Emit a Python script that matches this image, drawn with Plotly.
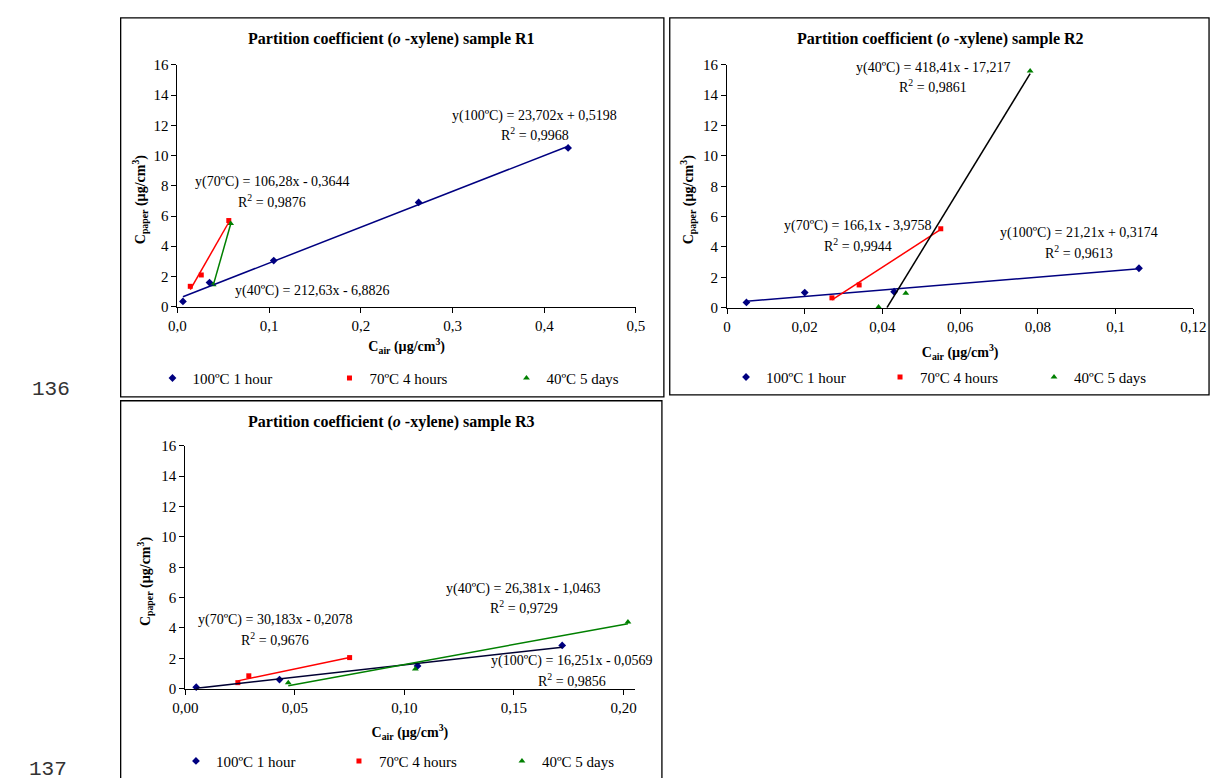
import plotly.graph_objects as go

W, H = 1224, 778
FONT = "Liberation Serif"

# ---------------- data ----------------
series_names = ["100ºC 1 hour", "70ºC 4 hours", "40ºC 5 days"]
series_colors = ["#000080", "#FF0000", "#008000"]
series_symbols = ["diamond", "square", "triangle-up"]

# Sample R1
r1_x100 = [0.006, 0.035, 0.105, 0.263, 0.426]
r1_y100 = [0.35, 1.6, 3.05, 6.9, 10.5]
r1_x70 = [0.014, 0.026, 0.056]
r1_y70 = [1.35, 2.1, 5.7]
r1_x40 = [0.039, 0.058]
r1_y40 = [1.45, 5.5]
r1_fit = [(23.702, 0.5198), (106.28, -0.3644), (212.63, -6.8826)]

# Sample R2
r2_x100 = [0.005, 0.020, 0.043, 0.106]
r2_y100 = [0.35, 1.0, 1.05, 2.6]
r2_x70 = [0.027, 0.034, 0.055]
r2_y70 = [0.65, 1.5, 5.2]
r2_x40 = [0.039, 0.046, 0.078]
r2_y40 = [0.05, 0.95, 15.6]
r2_fit = [(21.21, 0.3174), (166.1, -3.9758), (418.41, -17.217)]

# Sample R3
r3_x100 = [0.005, 0.043, 0.106, 0.172]
r3_y100 = [0.1, 0.6, 1.5, 2.85]
r3_x70 = [0.024, 0.029, 0.075]
r3_y70 = [0.4, 0.85, 2.05]
r3_x40 = [0.047, 0.105, 0.202]
r3_y40 = [0.4, 1.3, 4.4]
r3_fit = [(16.251, -0.0569), (30.183, -0.2078), (26.381, -1.0463)]

y_ticks = [0, 2, 4, 6, 8, 10, 12, 14, 16]
r1_xticks = [0, 0.1, 0.2, 0.3, 0.4, 0.5]
r1_xticklabels = ["0,0", "0,1", "0,2", "0,3", "0,4", "0,5"]
r2_xticks = [0, 0.02, 0.04, 0.06, 0.08, 0.1, 0.12]
r2_xticklabels = ["0", "0,02", "0,04", "0,06", "0,08", "0,1", "0,12"]
r3_xticks = [0, 0.05, 0.10, 0.15, 0.20]
r3_xticklabels = ["0,00", "0,05", "0,10", "0,15", "0,20"]

titles = [
    "<b>Partition coefficient (<i>o</i> -xylene) sample R1</b>",
    "<b>Partition coefficient (<i>o</i> -xylene) sample R2</b>",
    "<b>Partition coefficient (<i>o</i> -xylene) sample R3</b>",
]
r1_eq = ["y(100ºC) = 23,702x + 0,5198", "y(70ºC) = 106,28x - 0,3644", "y(40ºC) = 212,63x - 6,8826"]
r1_r2 = ["R<sup>2</sup> = 0,9968", "R<sup>2</sup> = 0,9876", None]
r2_eq = ["y(100ºC) = 21,21x + 0,3174", "y(70ºC) = 166,1x - 3,9758", "y(40ºC) = 418,41x - 17,217"]
r2_r2 = ["R<sup>2</sup> = 0,9613", "R<sup>2</sup> = 0,9944", "R<sup>2</sup> = 0,9861"]
r3_eq = ["y(100ºC) = 16,251x - 0,0569", "y(70ºC) = 30,183x - 0,2078", "y(40ºC) = 26,381x - 1,0463"]
r3_r2 = ["R<sup>2</sup> = 0,9856", "R<sup>2</sup> = 0,9676", "R<sup>2</sup> = 0,9729"]
page_numbers = ["136", "137"]


def px(x):
    return x / W


def py(y):
    return 1 - y / H


fig = go.Figure()

panels = [
    dict(xs=[r1_x100, r1_x70, r1_x40], ys=[r1_y100, r1_y70, r1_y40], fit=r1_fit,
         trend_colors=["#000080", "#FF0000", "#008000"],
         xdom=(168, 636.5), ydom=(58, 305), xrange=[0, 0.5],
         xt=r1_xticks, xtl=r1_xticklabels, legend="legend", entry=181, standoff=8,
         eq=r1_eq, r2=r1_r2,
         eqpos=[(533, 110), (265, 178), (306, 289)], r2dy=19,
         title_xy=(387, 32), ytitle_xy=(130, 195), leg_xy=(142.5, 378),
         box=(110, 10, 665, 397)),
    dict(xs=[r2_x100, r2_x70, r2_x40], ys=[r2_y100, r2_y70, r2_y40], fit=r2_fit,
         trend_colors=["#000080", "#FF0000", "#000000"],
         xdom=(729.5, 1206), ydom=(58, 306), xrange=[0, 0.12],
         xt=r2_xticks, xtl=r2_xticklabels, legend="legend2", entry=158, standoff=13,
         eq=r2_eq, r2=r2_r2,
         eqpos=[(1089, 230), (863, 223), (940, 61)], r2dy=19,
         title_xy=(948, 32), ytitle_xy=(690, 195), leg_xy=(728.5, 377),
         box=(671, 10, 1222, 395)),
    dict(xs=[r3_x100, r3_x70, r3_x40], ys=[r3_y100, r3_y70, r3_y40], fit=r3_fit,
         trend_colors=["#000033", "#FF0000", "#008000"],
         xdom=(176, 635), ydom=(447, 695), xrange=[0, 0.205],
         xt=r3_xticks, xtl=r3_xticklabels, legend="legend3", entry=167, standoff=12,
         eq=r3_eq, r2=r3_r2,
         eqpos=[(571, 667), (268, 625), (522, 593)], r2dy=19,
         title_xy=(387, 423), ytitle_xy=(135, 585), leg_xy=(166.5, 769),
         box=(110, 401, 663, 790)),
]

annotations = []
shapes = []
layout_axes = {}

for i, p in enumerate(panels):
    n = "" if i == 0 else str(i + 1)
    xa, ya = "x" + n, "y" + n
    # markers
    for k in range(3):
        fig.add_trace(go.Scatter(
            x=p["xs"][k], y=p["ys"][k], mode="markers", name=series_names[k],
            marker=dict(symbol=series_symbols[k], color=series_colors[k], size=[6, 5, 6][k]),
            xaxis=xa, yaxis=ya, legend=p["legend"], showlegend=True, cliponaxis=False))
    # linear trendlines from the fitted equations
    for k in range(3):
        a, b = p["fit"][k]
        xmin, xmax = min(p["xs"][k]), max(p["xs"][k])
        if a * xmin + b < 0:
            xmin = -b / a
        xl = [xmin, xmax]
        yl = [a * v + b for v in xl]
        fig.add_trace(go.Scatter(
            x=xl, y=yl, mode="lines", line=dict(color=p["trend_colors"][k], width=1.5),
            xaxis=xa, yaxis=ya, showlegend=False, hoverinfo="skip"))

    layout_axes["xaxis" + n] = dict(
        domain=[px(p["xdom"][0]), px(p["xdom"][1])], range=p["xrange"], anchor=ya,
        tickvals=p["xt"], ticktext=p["xtl"], ticks="outside", ticklen=5, tickcolor="black",
        showline=True, linecolor="black", linewidth=1, showgrid=False, zeroline=False,
        tickfont=dict(family=FONT, size=15, color="black"),
        title=dict(text="<b>C<sub>air</sub> (µg/cm<sup>3</sup>)</b>",
                   font=dict(family=FONT, size=14, color="black"), standoff=p["standoff"]))
    layout_axes["yaxis" + n] = dict(
        domain=[py(p["ydom"][1]), py(p["ydom"][0])], range=[0, 16], anchor=xa,
        tickvals=y_ticks, ticks="outside", ticklen=5, tickcolor="black",
        showline=True, linecolor="black", linewidth=1, showgrid=False, zeroline=False,
        tickfont=dict(family=FONT, size=15, color="black"))

    # title
    annotations.append(dict(text=titles[i], x=px(p["title_xy"][0]), y=py(p["title_xy"][1]),
                            xref="paper", yref="paper", showarrow=False, xanchor="center",
                            yanchor="middle", font=dict(family=FONT, size=16, color="black")))
    # y axis title
    annotations.append(dict(text="<b>C<sub>paper</sub> (µg/cm<sup>3</sup>)</b>",
                            x=px(p["ytitle_xy"][0]), y=py(p["ytitle_xy"][1]),
                            xref="paper", yref="paper", showarrow=False, textangle=-90,
                            xanchor="center", yanchor="middle",
                            font=dict(family=FONT, size=14, color="black")))
    # equations
    for k in range(3):
        ex, ey = p["eqpos"][k]
        annotations.append(dict(text=p["eq"][k], x=px(ex), y=py(ey), xref="paper", yref="paper",
                                showarrow=False, xanchor="center", yanchor="middle",
                                font=dict(family=FONT, size=14, color="black")))
        if p["r2"][k]:
            annotations.append(dict(text=p["r2"][k], x=px(ex), y=py(ey + p["r2dy"]),
                                    xref="paper", yref="paper", showarrow=False,
                                    xanchor="center", yanchor="middle",
                                    font=dict(family=FONT, size=14, color="black")))
    # panel frame
    x0, y0, x1, y1 = p["box"]
    shapes.append(dict(type="rect", xref="paper", yref="paper", x0=px(x0), x1=px(x1),
                       y0=py(y1), y1=py(y0), line=dict(color="black", width=1.3)))
    # legend
    layout_axes[p["legend"]] = dict(
        orientation="h", x=px(p["leg_xy"][0]), y=py(p["leg_xy"][1]), xanchor="left",
        yanchor="middle", entrywidth=p["entry"] - 49, entrywidthmode="pixels",
        font=dict(family=FONT, size=15, color="black"), bgcolor="rgba(0,0,0,0)",
        itemclick=False, tracegroupgap=0)

# page line numbers
annotations.append(dict(text=page_numbers[0], x=px(17), y=py(389), xref="paper", yref="paper",
                        showarrow=False, xanchor="left", yanchor="middle",
                        font=dict(family="Liberation Mono", size=21, color="#333333")))
annotations.append(dict(text=page_numbers[1], x=px(14), y=py(777), xref="paper", yref="paper",
                        showarrow=False, xanchor="left", yanchor="middle",
                        font=dict(family="Liberation Mono", size=21, color="#333333")))

fig.update_layout(
    width=W, height=H, margin=dict(l=0, r=0, t=0, b=0),
    paper_bgcolor="white", plot_bgcolor="white",
    annotations=annotations, shapes=shapes, showlegend=True,
    **layout_axes)

fig.write_html("out.html", config={"displayModeBar": False},
               post_script="document.body.style.margin='0px';document.body.style.overflow='hidden';")
